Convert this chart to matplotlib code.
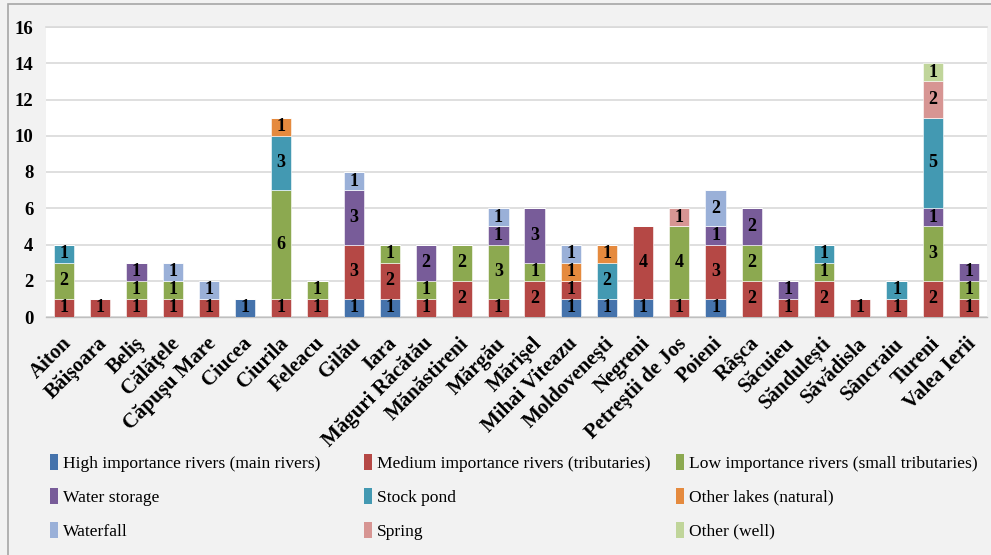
import matplotlib
matplotlib.use("Agg")
import matplotlib.pyplot as plt
import matplotlib.transforms as mtransforms
import numpy as np
from matplotlib.patches import Rectangle, Patch

communes = ["Aiton", "Băişoara", "Beliş", "Călăţele", "Căpuşu Mare", "Ciucea",
            "Ciurila", "Feleacu", "Gilău", "Iara", "Măguri Răcătău", "Mănăstireni",
            "Mărgău", "Mărişel", "Mihai Viteazu", "Moldoveneşti", "Negreni",
            "Petreştii de Jos", "Poieni", "Râşca", "Săcuieu", "Săndulești",
            "Săvădisla", "Sâncraiu", "Tureni", "Valea Ierii"]

high_rivers   = [0, 0, 0, 0, 0, 1, 0, 0, 1, 1, 0, 0, 0, 0, 1, 1, 1, 0, 1, 0, 0, 0, 0, 0, 0, 0]
medium_rivers = [1, 1, 1, 1, 1, 0, 1, 1, 3, 2, 1, 2, 1, 2, 1, 0, 4, 1, 3, 2, 1, 2, 1, 1, 2, 1]
low_rivers    = [2, 0, 1, 1, 0, 0, 6, 1, 0, 1, 1, 2, 3, 1, 0, 0, 0, 4, 0, 2, 0, 1, 0, 0, 3, 1]
water_storage = [0, 0, 1, 0, 0, 0, 0, 0, 3, 0, 2, 0, 1, 3, 0, 0, 0, 0, 1, 2, 1, 0, 0, 0, 1, 1]
stock_pond    = [1, 0, 0, 0, 0, 0, 3, 0, 0, 0, 0, 0, 0, 0, 0, 2, 0, 0, 0, 0, 0, 1, 0, 1, 5, 0]
other_lakes   = [0, 0, 0, 0, 0, 0, 1, 0, 0, 0, 0, 0, 0, 0, 1, 1, 0, 0, 0, 0, 0, 0, 0, 0, 0, 0]
waterfall     = [0, 0, 0, 1, 1, 0, 0, 0, 1, 0, 0, 0, 1, 0, 1, 0, 0, 0, 2, 0, 0, 0, 0, 0, 0, 0]
spring        = [0, 0, 0, 0, 0, 0, 0, 0, 0, 0, 0, 0, 0, 0, 0, 0, 0, 1, 0, 0, 0, 0, 0, 0, 2, 0]
other_well    = [0, 0, 0, 0, 0, 0, 0, 0, 0, 0, 0, 0, 0, 0, 0, 0, 0, 0, 0, 0, 0, 0, 0, 0, 1, 0]

series_names = ["High importance rivers (main rivers)",
                "Medium importance rivers (tributaries)",
                "Low importance rivers (small tributaries)",
                "Water storage", "Stock pond", "Other lakes (natural)",
                "Waterfall", "Spring", "Other (well)"]
series_values = [high_rivers, medium_rivers, low_rivers, water_storage, stock_pond,
                 other_lakes, waterfall, spring, other_well]
colors = ["#4573AC", "#B54845", "#8CA950", "#785C99", "#4399B2", "#E58A3E",
          "#9AB0D8", "#D79593", "#C0D59A"]

serif = ["Liberation Serif", "DejaVu Serif"]

fig = plt.figure(figsize=(9.91, 5.55), dpi=100)
fig.patch.set_facecolor("#F2F2F2")
# outer frame
fig.add_artist(Rectangle((8 / 991, -0.02), 1.2, 1 - 4 / 555 + 0.02,
                         transform=fig.transFigure, fill=False,
                         edgecolor="#A6A6A6", linewidth=1.2))

ax = fig.add_axes([46 / 991, 1 - 317 / 555, 941 / 991, 290 / 555])
ax.set_facecolor("white")

x = np.arange(len(communes))
bottom = np.zeros(len(communes))
for name, vals, col in zip(series_names, series_values, colors):
    vals = np.array(vals, dtype=float)
    bars = ax.bar(x, vals, width=0.56, bottom=bottom, color=col,
                  edgecolor="white", linewidth=0.4, label=name, zorder=3)
    labels = [str(int(v)) if v > 0 else "" for v in vals]
    ax.bar_label(bars, labels=labels, label_type="center", fontsize=13,
                 fontweight="bold", family=serif, color="black", zorder=4)
    bottom += vals

ax.set_xlim(-0.5, len(communes) - 0.5)
ax.set_ylim(0, 16)
ax.set_yticks(np.arange(0, 17, 2))
ax.yaxis.grid(True, color="#D9D9D9", linewidth=1.2, zorder=0)
ax.set_axisbelow(True)
for s in ["left", "right"]:
    ax.spines[s].set_visible(False)
ax.spines["top"].set_color("#D9D9D9")
ax.spines["top"].set_linewidth(1.2)
ax.spines["bottom"].set_color("#BFBFBF")
ax.spines["bottom"].set_linewidth(1.0)
ax.tick_params(axis="both", length=0)
ax.tick_params(axis="y", pad=9)
ax.tick_params(axis="x", pad=17)

for t in ax.get_yticklabels():
    t.set_fontfamily(serif)
    t.set_fontweight("bold")
    t.set_fontsize(13.5)

ax.set_xticks(x)
ax.set_xticklabels(communes, rotation=45, ha="right", va="center",
                   rotation_mode="anchor", fontsize=15, fontweight="bold",
                   family=serif)
shift = mtransforms.ScaledTranslation(4 / 100, 0, fig.dpi_scale_trans)
for t in ax.get_xticklabels():
    t.set_transform(t.get_transform() + shift)

# legend: three equal-width columns, filled row by row
handles = [Patch(facecolor=c, edgecolor="none") for c in colors]
col_left = [43, 357, 669]
for c in range(3):
    idx = [c, c + 3, c + 6]
    fig.legend([handles[i] for i in idx], [series_names[i] for i in idx],
               ncol=1, loc="upper left",
               bbox_to_anchor=(col_left[c] / 991, 1 - 447 / 555),
               frameon=False, prop={"family": serif, "size": 12.6},
               handlelength=0.45, handleheight=1.0, handletextpad=0.3,
               labelspacing=0.92, borderaxespad=0)

fig.savefig("out.png", dpi=100, facecolor=fig.get_facecolor())
